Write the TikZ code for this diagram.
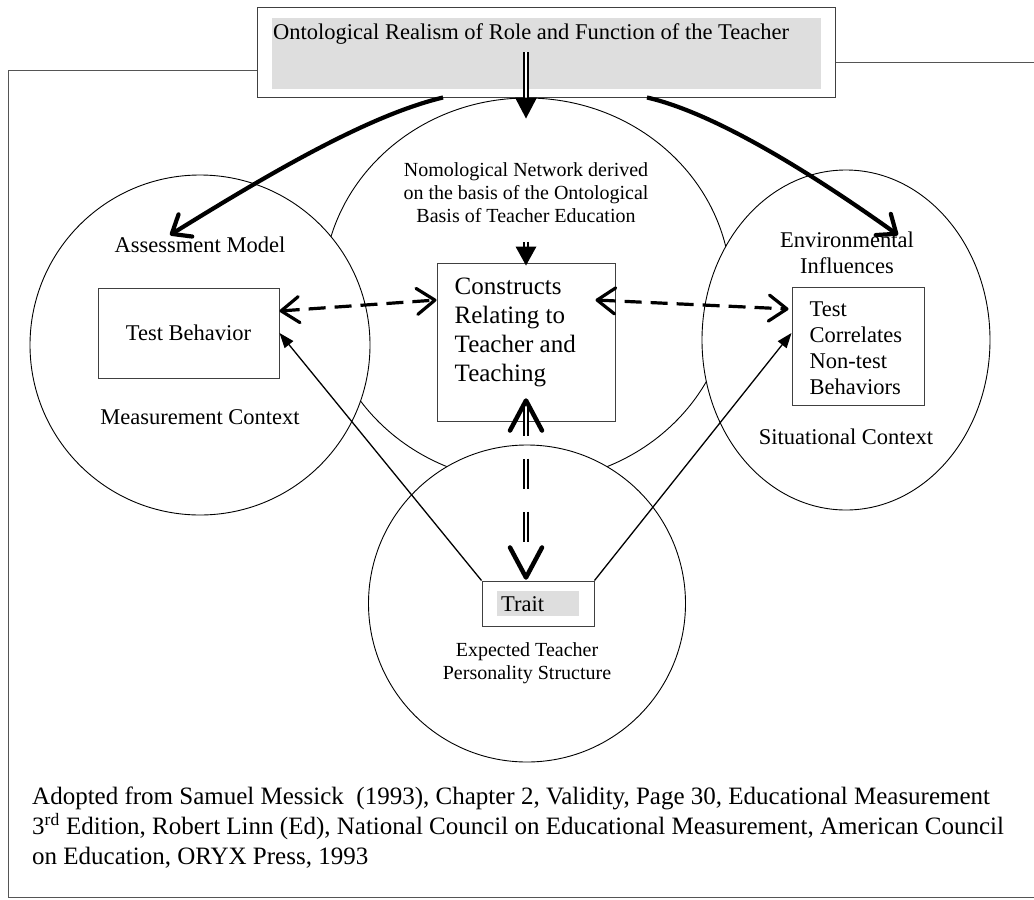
\documentclass[tikz,border=0pt]{standalone}
\usepackage{fontspec}
\setmainfont{Liberation Serif}
\usepackage{xcolor}
\usepackage{tikz}
\usetikzlibrary{arrows.meta,positioning,calc,shapes.geometric}
\definecolor{TitleGray}{HTML}{DEDEDE}
\definecolor{FrameGray}{HTML}{555555}

\begin{document}
\begin{tikzpicture}[x=1pt,y=-1pt,
  ring/.style={draw=black,ellipse,fill=white,line width=0.9pt,inner sep=0pt},
  box/.style={draw=black!75,fill=white,line width=1pt,inner sep=0pt},
  shade/.style={fill=TitleGray,inner sep=0pt},
  txt/.style={font=\fontsize{22.5}{26}\selectfont,align=center,inner sep=0pt},
  small/.style={font=\fontsize{20}{23}\selectfont,align=center,inner sep=0pt},
  big/.style={font=\fontsize{25}{29}\selectfont,align=left,inner sep=0pt},
  foot/.style={font=\fontsize{25}{30}\selectfont,align=left,inner sep=0pt},
  curve/.style={line width=4.2pt,-{Straight Barb[length=16pt,width=26pt,round]}},
  link/.style={line width=1.3pt,-{Triangle[length=15pt,width=11pt]}},
  dashlink/.style={line width=3.2pt,dash pattern=on 17pt off 9pt,{Straight Barb[length=18pt,width=26pt,round]}-{Straight Barb[length=18pt,width=26pt,round]}},
  twin/.style={double,double distance=2.4pt,line width=1.6pt},
  vtip/.style={line width=4.5pt,line cap=round,line join=round},
  frame/.style={draw=FrameGray,line width=1pt}
]
\useasboundingbox (0,0) rectangle (1034,900);
\node[ring,minimum width=408,minimum height=384] (nomocircle) at (527,290) {};
\node[ring,minimum size=340] (assesscircle) at (200,345) {};
\node[ring,minimum width=288,minimum height=340] (envcircle) at (846,340) {};
\node[ring,minimum size=317] (traitcircle) at (527,603.5) {};

\node[box,minimum width=578,minimum height=90] (title) at (546,52) {};
\node[shade,minimum width=549,minimum height=71] (titleshade) at (546.5,53.5) {};
\node[txt,anchor=base west] (titletext) at (273,39) {Ontological Realism of Role and Function of the Teacher};
\draw[frame] ([yshift=-18pt]title.west) -| (8,897) -- (1034,897);
\draw[frame] ([yshift=-10pt]title.east) -- (1034,62);

\node[txt] (assess) at (200,245) {Assessment Model};
\node[box,txt,minimum width=181,minimum height=90] (tb) at (188.5,333) {Test Behavior};
\node[txt] (measure) at (200,417) {Measurement Context};

\node[small] (nomo) at (526,193) {Nomological Network derived\\on the basis of the Ontological\\Basis of Teacher Education};
\node[box,minimum width=178,minimum height=158] (constructs) at (526,342) {};
\node[big,anchor=north west] (constructstext) at ([xshift=18pt,yshift=-15pt]constructs.north west) {Constructs\\Relating to\\Teacher and\\Teaching};

\node[txt] (env) at (847,253) {Environmental\\Influences};
\node[box,minimum width=132,minimum height=118] (tcb) at (858,346) {};
\node[txt,align=left,anchor=north west] (tcbtext) at ([xshift=18pt,yshift=-15pt]tcb.north west) {Test\\Correlates\\Non-test\\Behaviors};
\node[txt] (situ) at (846,437) {Situational Context};

\node[box,minimum width=112,minimum height=45] (trait) at (538,603.5) {};
\node[shade,minimum width=82,minimum height=25] (traitshade) at (538,603.5) {};
\node[txt,anchor=base west] (traittext) at (501,611) {Trait};
\node[small] (expect) at (527,663) {Expected Teacher\\Personality Structure};

\node[foot,anchor=north west] (source) at (32,787) {Adopted from Samuel Messick~ (1993), Chapter 2, Validity, Page 30, Educational Measurement\\3\textsuperscript{rd} Edition, Robert Linn (Ed), National Council on Educational Measurement, American Council\\on Education, ORYX Press, 1993};

\coordinate (lefttip) at (170,235);
\coordinate (righttip) at (898,235);
\coordinate (traittop) at (constructs.south |- trait.north);

\draw[curve] ([xshift=-103pt]title.south) .. controls (370,115) and (275,170) .. (lefttip);
\draw[curve] ([xshift=101pt]title.south) .. controls (710,112) and (800,165) .. (righttip);

\draw[twin] (nomo.north |- title.center) -- (nomo.north |- title.south);
\fill (nomo.north |- title.south) ++(-11,0) -- ++(22,0) -- ++(-11,21) -- cycle;
\draw[twin] ([yshift=21pt]constructs.north) -- ([yshift=15pt]constructs.north);
\fill ([yshift=16pt]constructs.north) ++(-10.5,0) -- ++(21,0) -- ++(-10.5,19) -- cycle;

\draw[dashlink] ([yshift=22pt]tb.east) -- ([yshift=42pt]constructs.west);
\draw[dashlink] ([xshift=-20pt,yshift=42pt]constructs.east) -- ([xshift=-3pt,yshift=37pt]tcb.west);

\draw[twin,dash pattern=on 30pt off 23pt,shorten <=-16pt,shorten >=36pt] (constructs.south) -- (traittop);
\draw[vtip] ([xshift=-16pt,yshift=-9pt]constructs.south) -- ([yshift=21pt]constructs.south) -- ([xshift=16pt,yshift=-9pt]constructs.south);
\draw[vtip] ([xshift=-16pt,yshift=33pt]traittop) -- ([yshift=3pt]traittop) -- ([xshift=16pt,yshift=33pt]traittop);

\draw[link] (trait.north west) -- (tb.east);
\draw[link] (trait.north east) -- ([yshift=13pt]tcb.west);
\end{tikzpicture}
\end{document}
